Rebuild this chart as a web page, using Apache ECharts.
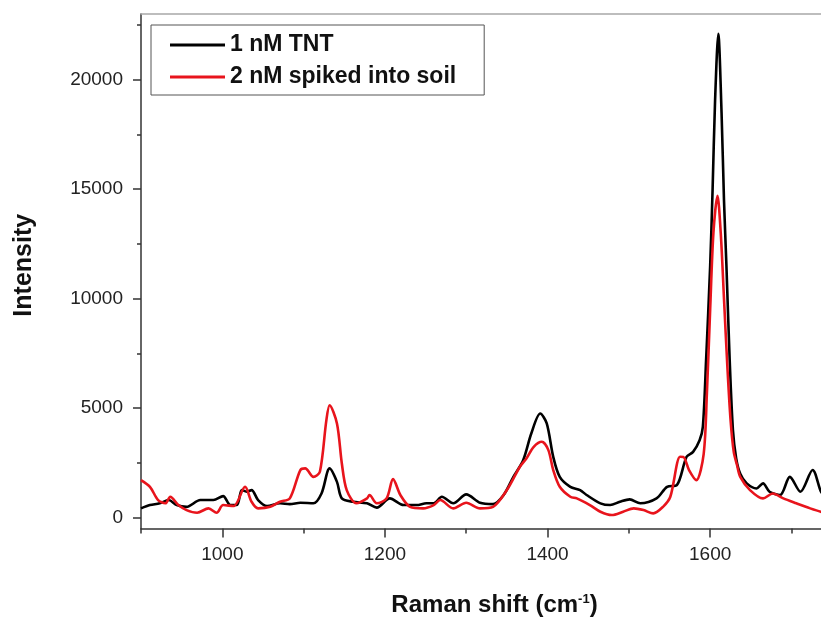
<!DOCTYPE html>
<html>
<head>
<meta charset="utf-8">
<script src="https://cdn.jsdelivr.net/npm/echarts@6/dist/echarts.min.js"></script>
<style>
html,body{margin:0;padding:0;background:#fff;}
#chart{width:821px;height:617px;}
</style>
</head>
<body>
<div id="chart"></div>
<script>
// Raman shift (cm^-1) and intensity for each spectrum
const tntX = [900, 911, 923, 934, 944, 956, 973, 989, 1001, 1010, 1018, 1024, 1030, 1036, 1044, 1055, 1071, 1083, 1096, 1112, 1122, 1132, 1141, 1147, 1161, 1178, 1190, 1206, 1223, 1239, 1251, 1260, 1270, 1284, 1300, 1317, 1333, 1346, 1358, 1370, 1380, 1391, 1399, 1407, 1415, 1428, 1440, 1448, 1465, 1477, 1489, 1501, 1514, 1534, 1547, 1559, 1571, 1579, 1587, 1591, 1595, 1600, 1603, 1606, 1610, 1614, 1617, 1620, 1624, 1628, 1632, 1637, 1645, 1657, 1665, 1673, 1686, 1698, 1711, 1726, 1736, 1740];
const tntY = [420, 570, 650, 800, 570, 490, 800, 800, 980, 570, 570, 1255, 1180, 1255, 800, 525, 650, 615, 675, 650, 1100, 2245, 1630, 875, 720, 650, 455, 875, 570, 570, 650, 650, 950, 650, 1060, 675, 615, 1030, 1860, 2620, 3840, 4750, 4300, 2775, 1860, 1405, 1255, 1030, 650, 570, 720, 830, 650, 875, 1405, 1480, 2775, 3000, 3535, 4140, 7200, 11500, 15000, 19000, 22100, 18500, 14500, 11500, 7200, 4000, 2700, 2000, 1560, 1330, 1560, 1180, 1030, 1860, 1180, 2170, 1200, 1000];

const soilX = [900, 911, 921, 930, 936, 946, 956, 969, 983, 993, 1001, 1014, 1028, 1036, 1044, 1059, 1071, 1083, 1096, 1102, 1112, 1120, 1128, 1132, 1141, 1147, 1153, 1165, 1178, 1181, 1190, 1202, 1210, 1219, 1231, 1247, 1260, 1268, 1284, 1300, 1317, 1333, 1350, 1366, 1374, 1383, 1393, 1401, 1407, 1415, 1428, 1436, 1452, 1465, 1479, 1493, 1506, 1518, 1530, 1542, 1551, 1563, 1567, 1574, 1583, 1592, 1596, 1600, 1604, 1609, 1613, 1617, 1621, 1625, 1629, 1633, 1637, 1649, 1665, 1677, 1690, 1706, 1723, 1736, 1740];
const soilY = [1710, 1405, 800, 650, 950, 570, 340, 220, 420, 220, 570, 525, 1405, 720, 420, 490, 720, 875, 2170, 2245, 1860, 2090, 4450, 5130, 4300, 2470, 1255, 650, 875, 1030, 650, 875, 1755, 1030, 490, 420, 570, 800, 420, 675, 420, 490, 1255, 2320, 2700, 3230, 3460, 3080, 2170, 1405, 950, 875, 570, 265, 115, 265, 420, 340, 190, 490, 950, 2775, 2770, 2170, 1710, 2900, 5700, 9500, 13000, 14700, 13000, 10000, 7000, 4500, 3000, 2400, 1860, 1255, 875, 1100, 875, 650, 420, 265, 250];

const seriesNames = ['1 nM TNT', '2 nM spiked into soil'];
const xMajorTicks = [1000, 1200, 1400, 1600];
const xMinorTicks = [900, 1100, 1300, 1500, 1700];
const yMajorTicks = [0, 5000, 10000, 15000, 20000];
const yMinorTicks = [2500, 7500, 12500, 17500, 22500];

const FONT = "'Liberation Sans', Arial, Helvetica, sans-serif";
const zip = (xs, ys) => xs.map((x, i) => [x, ys[i]]);
const plain = v => String(v);

const chart = echarts.init(document.getElementById('chart'), null, {renderer: 'canvas'});
const axisColor = '#333';
chart.setOption({
  animation: false,
  backgroundColor: '#fff',
  grid: {left: 141, top: 14, width: 683, height: 514.5, containLabel: false, outerBoundsMode: 'none'},
  legend: {
    data: seriesNames,
    orient: 'vertical',
    left: 151, top: 25,
    icon: 'rect', itemWidth: 55, itemHeight: 3, itemGap: 8,
    padding: [8, 28, 6, 19],
    borderColor: '#555', borderWidth: 1, backgroundColor: '#fff',
    textStyle: {fontFamily: FONT, fontWeight: 'bold', fontSize: 23, color: '#111', lineHeight: 24}
  },
  xAxis: [
    {
      type: 'value', position: 'bottom', min: 900, max: 1740,
      axisLine: {show: true, onZero: false, lineStyle: {color: axisColor, width: 1.5}},
      axisTick: {show: true, length: 9, customValues: xMajorTicks, lineStyle: {color: axisColor, width: 1.5}},
      axisLabel: {customValues: xMajorTicks, formatter: plain, fontFamily: FONT, fontSize: 19, color: '#222', margin: 17},
      splitLine: {show: false},
      name: 'Raman shift (cm{sup|-1})',
      nameLocation: 'middle', nameGap: 64,
      nameTextStyle: {fontFamily: FONT, fontWeight: 'bold', fontSize: 24, color: '#111', padding: [0, 0, 0, 24],
        rich: {sup: {fontFamily: FONT, fontWeight: 'bold', fontSize: 13, color: '#111', verticalAlign: 'top', padding: [0, 0, 12, 0]}}}
    },
    {
      type: 'value', position: 'bottom', min: 900, max: 1740,
      axisLine: {show: false, onZero: false},
      axisTick: {show: true, length: 5, customValues: xMinorTicks, lineStyle: {color: axisColor, width: 1.5}},
      axisLabel: {show: false},
      splitLine: {show: false}
    },
    {
      type: 'value', position: 'top', min: 900, max: 1740,
      axisLine: {show: true, onZero: false, lineStyle: {color: '#a8a8a8', width: 1.5}},
      axisTick: {show: false}, axisLabel: {show: false}, splitLine: {show: false}
    }
  ],
  yAxis: [
    {
      type: 'value', position: 'left', min: -500, max: 23000,
      axisLine: {show: true, onZero: false, lineStyle: {color: axisColor, width: 1.5}},
      axisTick: {show: true, length: 8, customValues: yMajorTicks, lineStyle: {color: axisColor, width: 1.5}},
      axisLabel: {customValues: yMajorTicks, formatter: plain, fontFamily: FONT, fontSize: 19, color: '#222', margin: 18},
      splitLine: {show: false},
      name: 'Intensity', nameLocation: 'middle', nameGap: 104,
      nameTextStyle: {fontFamily: FONT, fontWeight: 'bold', fontSize: 25, color: '#111', padding: [0, 0, 0, 12]}
    },
    {
      type: 'value', position: 'left', min: -500, max: 23000,
      axisLine: {show: false, onZero: false},
      axisTick: {show: true, length: 4, customValues: yMinorTicks, lineStyle: {color: axisColor, width: 1.5}},
      axisLabel: {show: false},
      splitLine: {show: false}
    }
  ],
  series: [
    {
      name: seriesNames[0], type: 'line', xAxisIndex: 0, yAxisIndex: 0,
      data: zip(tntX, tntY), showSymbol: false, symbol: 'none', smooth: 0.3,
      color: '#000', lineStyle: {color: '#000', width: 2.6}
    },
    {
      name: seriesNames[1], type: 'line', xAxisIndex: 0, yAxisIndex: 0,
      data: zip(soilX, soilY), showSymbol: false, symbol: 'none', smooth: 0.3,
      color: '#e8141c', lineStyle: {color: '#e8141c', width: 2.6}
    }
  ]
});
</script>
</body>
</html>
